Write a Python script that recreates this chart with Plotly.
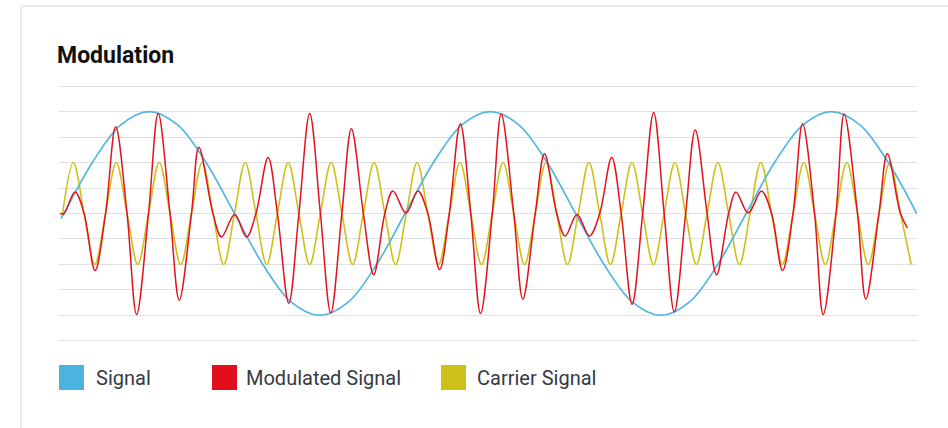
import plotly.graph_objects as go

# ---- data (x = phase of the signal, in degrees) ----
signal_t = [-3.1, 0, 30, 60, 90, 120, 150, 180, 210, 240, 270, 300, 330, 360, 390, 420,
            450, 480, 510, 540, 570, 600, 630, 660, 690, 720, 750, 780, 810, 840, 870, 900]
signal_v = [-0.05, 0, 0.5, 0.87, 1, 0.87, 0.5, 0, -0.5, -0.87, -1, -0.87, -0.5, 0, 0.5, 0.87,
            1, 0.87, 0.5, 0, -0.5, -0.87, -1, -0.87, -0.5, 0, 0.5, 0.87, 1, 0.87, 0.5, 0]

carrier_t = [-1.42, 9.92, 21.25, 32.59, 43.93, 55.27, 66.60, 77.94, 89.28, 100.61,
             111.95, 123.29, 134.62, 145.96, 157.30, 168.64, 179.97, 191.31, 202.65, 213.98,
             225.32, 236.66, 247.99, 259.33, 270.67, 282.01, 293.34, 304.68, 316.02, 327.35,
             338.69, 350.03, 361.36, 372.70, 384.04, 395.38, 406.71, 418.05, 429.39, 440.72,
             452.06, 463.40, 474.73, 486.07, 497.41, 508.75, 520.08, 531.42, 542.76, 554.09,
             565.43, 576.77, 588.10, 599.44, 610.78, 622.12, 633.45, 644.79, 656.13, 667.46,
             678.80, 690.14, 701.47, 712.81, 724.15, 735.49, 746.82, 758.16, 769.50, 780.83,
             792.17, 803.51, 814.84, 826.18, 837.52, 848.86, 860.19, 871.53, 882.87, 894.20]
carrier_v = [0, 0.5, 0, -0.5, 0, 0.5, 0, -0.5, 0, 0.5,
             0, -0.5, 0, 0.5, 0, -0.5, 0, 0.5, 0, -0.5,
             0, 0.5, 0, -0.5, 0, 0.5, 0, -0.5, 0, 0.5,
             0, -0.5, 0, 0.5, 0, -0.5, 0, 0.5, 0, -0.5,
             0, 0.5, 0, -0.5, 0, 0.5, 0, -0.5, 0, 0.5,
             0, -0.5, 0, 0.5, 0, -0.5, 0, 0.5, 0, -0.5,
             0, 0.5, 0, -0.5, 0, 0.5, 0, -0.5, 0, 0.5,
             0, -0.5, 0, 0.5, 0, -0.5, 0, 0.5, 0, -0.5]

modulated_t = [-4.1, 0, 11.7, 21.25, 32.8, 43.93, 54.6, 66.60, 76.7, 89.28,
               99.5, 111.95, 121.7, 134.62, 142.4, 157.30, 166.3, 180.2, 192.7, 202.65,
               215.5, 225.32, 237.3, 247.99, 259.4, 270.67, 281.6, 293.34, 303.4, 316.02,
               326.9, 338.69, 347.2, 361.0, 373.6, 384.04, 396.5, 406.71, 418.3, 429.39,
               439.7, 452.06, 461.5, 474.73, 484.3, 497.41, 507.2, 520.08, 529.0, 541.5,
               554.6, 565.43, 578.1, 588.10, 599.6, 610.78, 622.4, 633.45, 644.2, 656.13,
               666.3, 678.80, 688.8, 701.47, 709.2, 722.2, 736.2, 746.82, 758.4, 769.50,
               779.5, 792.17, 801.3, 814.84, 823.4, 837.52, 846.3, 860.19, 869.0, 882.87,
               890.1]
modulated_v = [0, 0, 0.21, 0, -0.56, 0, 0.85, 0, -0.99, 0,
               0.98, 0, -0.85, 0, 0.65, 0, -0.23, -0.01, -0.23, 0,
               0.55, 0, -0.88, 0, 0.98, 0, -0.975, 0, 0.83, 0,
               -0.6, 0, 0.22, 0.005, 0.22, 0, -0.55, 0, 0.88, 0,
               -0.98, 0, 0.975, 0, -0.84, 0, 0.585, 0, -0.22, -0.01,
               -0.22, 0, 0.55, 0, -0.89, 0, 0.99, 0, -0.965, 0,
               0.82, 0, -0.6, 0, 0.21, 0.005, 0.22, 0, -0.56, 0,
               0.88, 0, -0.99, 0, 0.975, 0, -0.84, 0, 0.585, 0,
               -0.14]

legend_names = ["Signal", "Modulated Signal", "Carrier Signal"]
legend_colors = ["#4ab4de", "#e20e1c", "#cdc119"]
legend_box_px = [59, 212, 441]
legend_text_px = [94, 243.5, 474.5]

title_text = "Modulation"

# ---- layout geometry ----
W, H = 948, 428
ML, MR, MT, MB = 59, 31, 84, 85
PW, PH = W - ML - MR, H - MT - MB


def px_x(p):
    return (p - ML) / PW


def px_y(p):
    return (H - MB - p) / PH


fig = go.Figure()
fig.add_trace(go.Scatter(x=carrier_t, y=carrier_v, mode="lines", name="Carrier Signal",
                         line=dict(color="#cdc119", width=1.6, shape="spline", smoothing=1.0),
                         showlegend=False, hoverinfo="skip"))
fig.add_trace(go.Scatter(x=signal_t, y=signal_v, mode="lines", name="Signal",
                         line=dict(color="#52b6e0", width=1.7, shape="spline", smoothing=1.0),
                         showlegend=False, hoverinfo="skip"))
fig.add_trace(go.Scatter(x=modulated_t, y=modulated_v, mode="lines", name="Modulated Signal",
                         line=dict(color="#e3121e", width=1.5, shape="spline", smoothing=1.0),
                         showlegend=False, hoverinfo="skip"))

shapes = [
    # card border (left and top)
    dict(type="line", xref="paper", yref="paper", x0=px_x(21), x1=px_x(21),
         y0=px_y(6), y1=px_y(440), line=dict(color="#e3e5e8", width=1.5)),
    dict(type="line", xref="paper", yref="paper", x0=px_x(21), x1=px_x(960),
         y0=px_y(6), y1=px_y(6), line=dict(color="#e3e5e8", width=1.5)),
]
annotations = []
for name, color, box, txt in zip(legend_names, legend_colors, legend_box_px, legend_text_px):
    shapes.append(dict(type="rect", xref="paper", yref="paper",
                       x0=px_x(box), x1=px_x(box + 25), y0=px_y(390), y1=px_y(365),
                       fillcolor=color, line=dict(width=0)))
    annotations.append(dict(text=name, xref="paper", yref="paper",
                            x=px_x(txt), y=px_y(377.5), xanchor="left", yanchor="middle",
                            showarrow=False,
                            font=dict(family="Roboto", size=20, color="#343a46")))

fig.update_layout(
    width=W, height=H, autosize=False,
    margin=dict(l=ML, r=MR, t=MT, b=MB, pad=0),
    paper_bgcolor="white", plot_bgcolor="white",
    title=dict(text=title_text, x=57 / W, xref="container", xanchor="left",
               y=1 - 55 / H, yref="container", yanchor="middle",
               font=dict(family="Roboto", size=23, color="#111111", weight="bold")),
    xaxis=dict(range=[-5.2, 900.3], showgrid=False, zeroline=False,
               showticklabels=False, showline=False, ticks=""),
    yaxis=dict(range=[-1.27, 1.27], dtick=0.25, tick0=0, showgrid=True,
               gridcolor="#dde1e6", gridwidth=1.3, zeroline=False,
               showticklabels=False, showline=False, ticks=""),
    shapes=shapes, annotations=annotations, showlegend=False,
)

fig.write_html("out.html", config={"displayModeBar": False},
               post_script="document.body.style.margin='0px';document.body.style.overflow='hidden';")
